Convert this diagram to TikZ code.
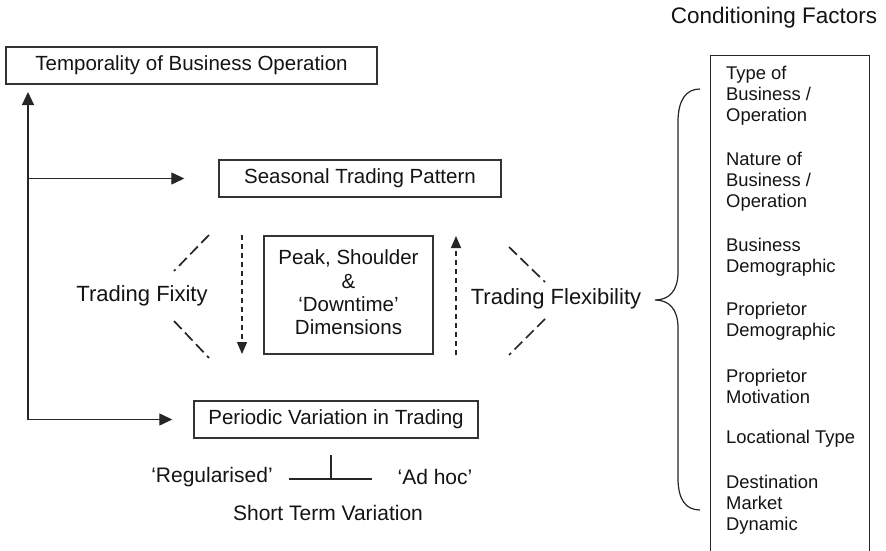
\documentclass[tikz,border=0pt]{standalone}
\usepackage{fontspec}
\setmainfont{Liberation Sans}
\usetikzlibrary{arrows.meta}
\newcommand\fsz[2]{\fontsize{#1}{#2}\selectfont}
\begin{document}
\begin{tikzpicture}[x=1pt,y=-1pt,
  every node/.style={text=black!92},
  box/.style={draw=black!80, line width=1.4pt, inner sep=0pt, font=\fsz{20.5}{24}},
  arr/.style={draw=black!85, line width=1.3pt, -{Triangle[length=13pt,width=12pt]}},
  darr/.style={draw=black!85, line width=1.3pt, dash pattern=on 5pt off 4pt, -{Triangle[length=12pt,width=10pt]}},
  dline/.style={draw=black!85, line width=1.7pt, dash pattern=on 11pt off 5pt},
  plain/.style={draw=black!85, line width=1.3pt},
  big/.style={font=\fsz{22}{26}, inner sep=0pt},
  fac/.style={font=\fsz{18.4}{21}, align=left, anchor=west, inner sep=0pt}]
\useasboundingbox (0,0) rectangle (886,551);
\fill[white] (0,0) rectangle (886,551);

% boxes
\node[box, minimum width=371pt, minimum height=37pt] (temp) at (191.5,65.5) {Temporality of Business Operation};
\node[box, minimum width=282pt, minimum height=37pt] (seas) at (360,178.5) {Seasonal Trading Pattern};
\node[box, minimum width=169pt, minimum height=118pt, align=center, font=\fsz{20.5}{23.7}] (peak) at (348.5,295) {\raisebox{2.5pt}{\begin{tabular}{@{}c@{}}Peak, Shoulder\\[-0.3pt]\&\\[-0.3pt]‘Downtime’\\[-0.3pt]Dimensions\end{tabular}}};
\node[box, minimum width=284pt, minimum height=37pt] (per) at (336,419.5) {Periodic Variation in Trading};

% left spine and arrows
\coordinate (vb) at (28,419.5);
\coordinate (vm) at (28,178.5);
\coordinate (vt) at (28,92);
\draw[arr] (vb) -- (vt);
\draw[arr] (vm) -- ([xshift=-34pt]seas.west);
\draw[arr] (vb) -- ([xshift=-21pt]per.west);

% dashed vertical arrows
\coordinate (dds) at (242,235);
\coordinate (dde) at (242,354);
\coordinate (dus) at (456,355);
\coordinate (due) at (456,236);
\draw[darr] (dds) -- (dde);
\draw[darr] (dus) -- (due);

% dashed diagonals
\coordinate (l1a) at (209,235); \coordinate (l1b) at (174,271);
\coordinate (l2a) at (174,321); \coordinate (l2b) at (209,358);
\coordinate (r1a) at (509,247); \coordinate (r1b) at (545,282);
\coordinate (r2a) at (545,319); \coordinate (r2b) at (509,355);
\draw[dline] (l1a) -- (l1b);
\draw[dline] (l2a) -- (l2b);
\draw[dline] (r1a) -- (r1b);
\draw[dline] (r2a) -- (r2b);

% side labels
\node[big] (fix) at (142,296) {Trading Fixity};
\node[big] (flex) at (556,299) {Trading Flexibility};

% short term variation
\node[big, font=\fsz{21}{25}] (reg) at (212,477) {‘Regularised’};
\node[big, font=\fsz{21}{25}] (adh) at (435,477) {‘Ad hoc’};
\node[big, font=\fsz{21}{25}] (stv) at (328,513) {Short Term Variation};
\coordinate (sl) at (289,479);
\coordinate (sr) at (372,479);
\coordinate (sm) at (331,479);
\coordinate (st) at (331,455);
\draw[plain] (sl) -- (sr);
\draw[plain] (st) -- (sm);

% conditioning factors
\node[big, font=\fsz{22.5}{26}] (cft) at (774,18) {Conditioning Factors};
\node[minimum width=158pt, minimum height=500pt, inner sep=0pt] (cf) at (790,306) {};
\draw[plain] (cf.south west) -- (cf.north west) -- (cf.north east) -- (cf.south east);

\node[fac] (f1) at (726,96) {Type of\\Business /\\Operation};
\node[fac] (f2) at (726,182) {Nature of\\Business /\\Operation};
\node[fac] (f3) at (726,257) {Business\\Demographic};
\node[fac] (f4) at (726,321.5) {Proprietor\\Demographic};
\node[fac] (f5) at (726,386.5) {Proprietor\\Motivation};
\node[fac] (f6) at (726,439) {Locational Type};
\node[fac] (f7) at (726,504.5) {Destination\\Market\\Dynamic};

% brace
\coordinate (bt) at (700,89);
\coordinate (bk) at (655,300);
\coordinate (bb) at (700,510);
\draw[plain, line width=1.2pt] (bt) .. controls (686,89) and (678,100) .. (678,122)
  -- (678,272) .. controls (678,291) and (669,300) .. (bk)
  .. controls (669,300) and (678,309) .. (678,328)
  -- (678,478) .. controls (678,500) and (686,510) .. (bb);
\end{tikzpicture}
\end{document}
